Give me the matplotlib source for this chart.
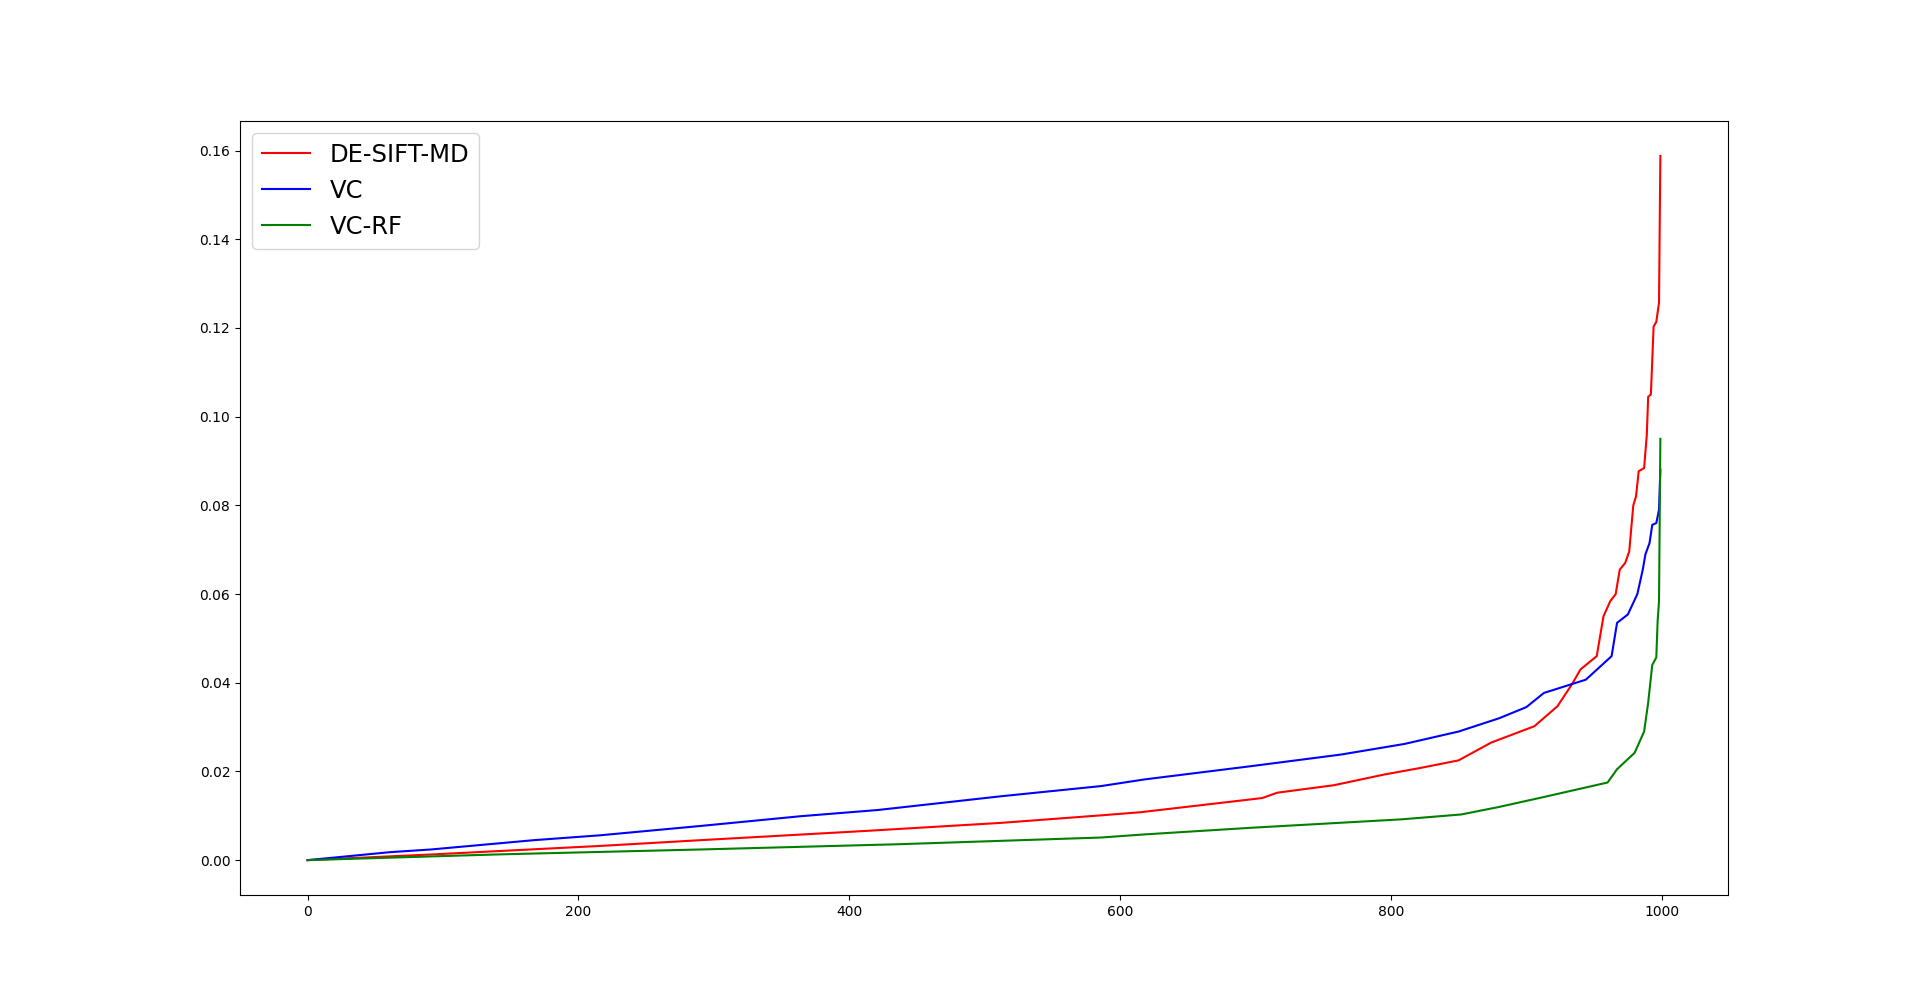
import matplotlib
matplotlib.use("Agg")
import matplotlib.pyplot as plt

labels = ["DE-SIFT-MD", "VC", "VC-RF"]
colors = ["red", "blue", "green"]

de_x = [0, 93, 216, 290, 413, 512, 586, 615, 705, 716, 758, 795, 822, 850, 874, 906,
        923, 934, 940, 952, 957, 962, 966, 969, 973, 976, 979, 981, 983, 987, 989,
        990, 992, 994, 996, 998, 999]
de_y = [0.0, 0.0013, 0.0032, 0.0045, 0.0066, 0.0084, 0.0101, 0.0108, 0.0140, 0.0152,
        0.0169, 0.0193, 0.0208, 0.0225, 0.0265, 0.0302, 0.0347, 0.0398, 0.0430, 0.0460,
        0.0550, 0.0584, 0.0600, 0.0655, 0.0670, 0.0696, 0.0800, 0.0820, 0.0877, 0.0884,
        0.0960, 0.1045, 0.1050, 0.1203, 0.1214, 0.1257, 0.1588]

vc_x = [0, 61, 91, 167, 216, 290, 364, 421, 512, 586, 618, 697, 763, 810, 850, 880,
        900, 913, 944, 963, 967, 975, 982, 986, 988, 991, 993, 996, 998, 999]
vc_y = [0.0, 0.0018, 0.0024, 0.0045, 0.0056, 0.0077, 0.0099, 0.0113, 0.0144, 0.0167,
        0.0182, 0.0212, 0.0238, 0.0262, 0.0290, 0.0320, 0.0345, 0.0377, 0.0407, 0.0460,
        0.0535, 0.0554, 0.0600, 0.0655, 0.0690, 0.0715, 0.0756, 0.0760, 0.0790, 0.0880]

rf_x = [0, 142, 290, 438, 586, 618, 697, 808, 852, 880, 911, 960, 967, 980, 987, 990,
        993, 996, 997, 998, 999]
rf_y = [0.0, 0.0013, 0.0024, 0.0036, 0.0051, 0.0058, 0.0073, 0.0092, 0.0103, 0.0120,
        0.0141, 0.0175, 0.0205, 0.0242, 0.0290, 0.0355, 0.0440, 0.0457, 0.0540, 0.0584,
        0.0950]

fig, ax = plt.subplots(figsize=(19.2, 10.06), dpi=100)
for xs, ys, lab, c in zip([de_x, vc_x, rf_x], [de_y, vc_y, rf_y], labels, colors):
    ax.plot(xs, ys, color=c, label=lab, linewidth=1.5)
ax.legend(loc="upper left", fontsize=17.5)
fig.savefig("out.png", dpi=100)
